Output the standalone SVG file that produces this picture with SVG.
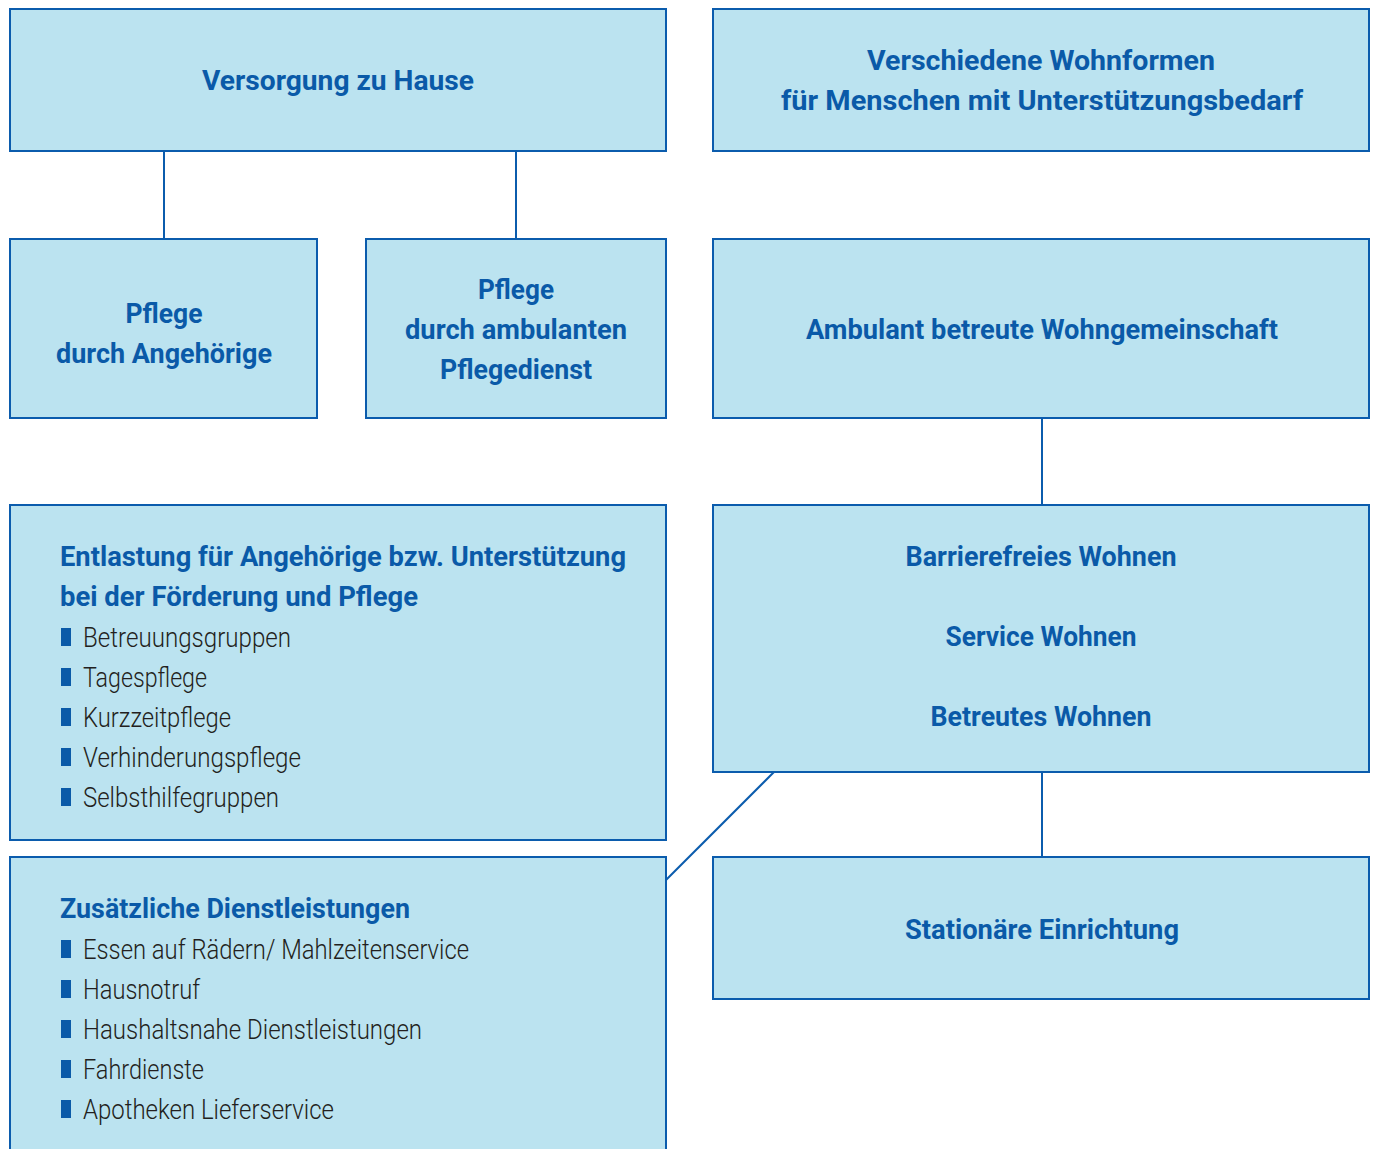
<svg xmlns="http://www.w3.org/2000/svg" width="1376" height="1149" viewBox="0 0 1376 1149">
  <style>
    .box { fill: #bbe3f0; stroke: #0b5cad; stroke-width: 2; }
    .link { stroke: #0b5cad; stroke-width: 2; fill: none; }
    .title { font-family: Roboto, "Liberation Sans", sans-serif; font-weight: 700; font-size: 27px; fill: #0a5aa8; }
    .mid { text-anchor: middle; }
    .item { font-family: Roboto, "Liberation Sans", sans-serif; font-weight: 300; font-size: 27px; fill: #231f20; }
    .bullet { fill: #0a5aa8; }
  </style>
  <rect width="1376" height="1149" fill="#ffffff"/>

  <!-- connectors -->
  <g id="connectors">
    <line class="link" x1="164" y1="151" x2="164" y2="239"/>
    <line class="link" x1="516" y1="151" x2="516" y2="239"/>
    <line class="link" x1="1042" y1="418" x2="1042" y2="505"/>
    <line class="link" x1="1042" y1="772" x2="1042" y2="857"/>
    <line class="link" x1="774" y1="772" x2="666" y2="880"/>
  </g>

  <g id="versorgung">
    <rect class="box" x="10" y="9" width="656" height="142"/>
    <text class="title mid" x="338" y="90" textLength="272" lengthAdjust="spacingAndGlyphs">Versorgung zu Hause</text>
  </g>

  <g id="wohnformen">
    <rect class="box" x="713" y="9" width="656" height="142"/>
    <text class="title mid" x="1041" y="70" textLength="348" lengthAdjust="spacingAndGlyphs">Verschiedene Wohnformen</text>
    <text class="title mid" x="1042" y="110" textLength="522" lengthAdjust="spacingAndGlyphs">für Menschen mit Unterstützungsbedarf</text>
  </g>

  <g id="pflege-angehoerige">
    <rect class="box" x="10" y="239" width="307" height="179"/>
    <text class="title mid" x="164" y="323" textLength="77" lengthAdjust="spacingAndGlyphs">Pflege</text>
    <text class="title mid" x="164" y="363" textLength="216" lengthAdjust="spacingAndGlyphs">durch Angehörige</text>
  </g>

  <g id="pflege-ambulant">
    <rect class="box" x="366" y="239" width="300" height="179"/>
    <text class="title mid" x="516" y="299" textLength="76" lengthAdjust="spacingAndGlyphs">Pflege</text>
    <text class="title mid" x="516" y="339" textLength="222" lengthAdjust="spacingAndGlyphs">durch ambulanten</text>
    <text class="title mid" x="516" y="379" textLength="152" lengthAdjust="spacingAndGlyphs">Pflegedienst</text>
  </g>

  <g id="wohngemeinschaft">
    <rect class="box" x="713" y="239" width="656" height="179"/>
    <text class="title mid" x="1042" y="339" textLength="472" lengthAdjust="spacingAndGlyphs">Ambulant betreute Wohngemeinschaft</text>
  </g>

  <g id="entlastung">
    <rect class="box" x="10" y="505" width="656" height="335"/>
    <text class="title" x="60" y="566" textLength="566" lengthAdjust="spacingAndGlyphs">Entlastung für Angehörige bzw. Unterstützung</text>
    <text class="title" x="60" y="606" textLength="358" lengthAdjust="spacingAndGlyphs">bei der Förderung und Pflege</text>
    <rect class="bullet" x="61" y="628" width="10" height="18"/>
    <text class="item" x="83" y="647" textLength="208" lengthAdjust="spacingAndGlyphs">Betreuungsgruppen</text>
    <rect class="bullet" x="61" y="668" width="10" height="18"/>
    <text class="item" x="83" y="687" textLength="124" lengthAdjust="spacingAndGlyphs">Tagespflege</text>
    <rect class="bullet" x="61" y="708" width="10" height="18"/>
    <text class="item" x="83" y="727" textLength="148" lengthAdjust="spacingAndGlyphs">Kurzzeitpflege</text>
    <rect class="bullet" x="61" y="748" width="10" height="18"/>
    <text class="item" x="83" y="767" textLength="218" lengthAdjust="spacingAndGlyphs">Verhinderungspflege</text>
    <rect class="bullet" x="61" y="788" width="10" height="18"/>
    <text class="item" x="83" y="807" textLength="196" lengthAdjust="spacingAndGlyphs">Selbsthilfegruppen</text>
  </g>

  <g id="wohnen">
    <rect class="box" x="713" y="505" width="656" height="267"/>
    <text class="title mid" x="1041" y="566" textLength="271" lengthAdjust="spacingAndGlyphs">Barrierefreies Wohnen</text>
    <text class="title mid" x="1041" y="646" textLength="191" lengthAdjust="spacingAndGlyphs">Service Wohnen</text>
    <text class="title mid" x="1041" y="726" textLength="221" lengthAdjust="spacingAndGlyphs">Betreutes Wohnen</text>
  </g>

  <g id="dienstleistungen">
    <rect class="box" x="10" y="857" width="656" height="310"/>
    <text class="title" x="60" y="918" textLength="350" lengthAdjust="spacingAndGlyphs">Zusätzliche Dienstleistungen</text>
    <rect class="bullet" x="61" y="940" width="10" height="18"/>
    <text class="item" x="83" y="959" textLength="386" lengthAdjust="spacingAndGlyphs">Essen auf Rädern/ Mahlzeitenservice</text>
    <rect class="bullet" x="61" y="980" width="10" height="18"/>
    <text class="item" x="83" y="999" textLength="117" lengthAdjust="spacingAndGlyphs">Hausnotruf</text>
    <rect class="bullet" x="61" y="1020" width="10" height="18"/>
    <text class="item" x="83" y="1039" textLength="339" lengthAdjust="spacingAndGlyphs">Haushaltsnahe Dienstleistungen</text>
    <rect class="bullet" x="61" y="1060" width="10" height="18"/>
    <text class="item" x="83" y="1079" textLength="121" lengthAdjust="spacingAndGlyphs">Fahrdienste</text>
    <rect class="bullet" x="61" y="1100" width="10" height="18"/>
    <text class="item" x="83" y="1119" textLength="251" lengthAdjust="spacingAndGlyphs">Apotheken Lieferservice</text>
  </g>

  <g id="stationaer">
    <rect class="box" x="713" y="857" width="656" height="142"/>
    <text class="title mid" x="1042" y="939" textLength="274" lengthAdjust="spacingAndGlyphs">Stationäre Einrichtung</text>
  </g>
</svg>
